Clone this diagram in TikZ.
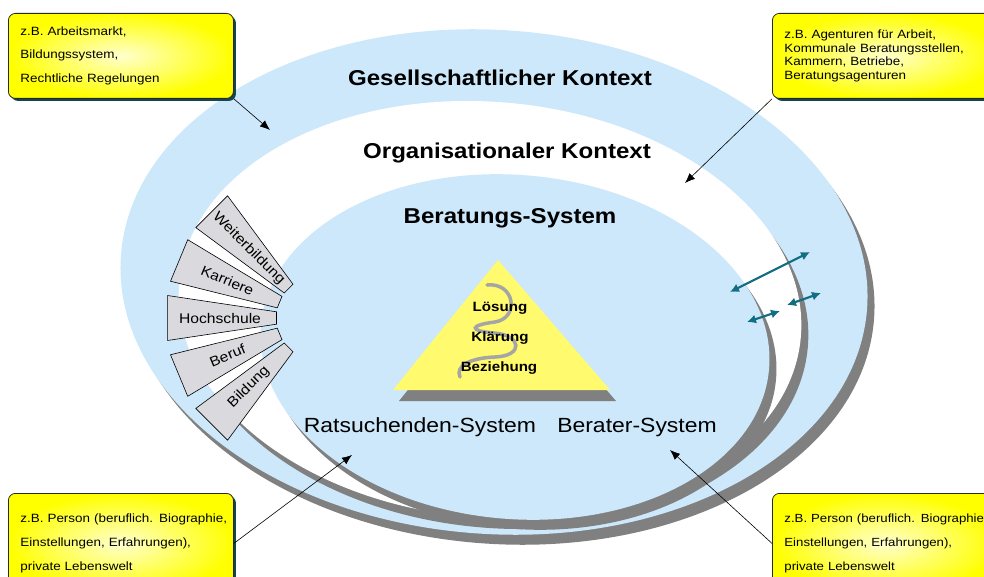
\documentclass[tikz,border=0pt]{standalone}
\usepackage{fontspec}
\setmainfont{Liberation Sans}[FakeStretch=1.12]
\usepackage{tikz}
\usetikzlibrary{calc, arrows.meta, shadows}

\definecolor{hellblau}{RGB}{204,232,250}
\definecolor{schatten}{RGB}{128,128,128}
\definecolor{pyrgelb}{RGB}{255,250,110}
\definecolor{petrol}{RGB}{20,110,130}
\definecolor{kastenrand}{RGB}{40,40,40}
\definecolor{kastenschatten}{RGB}{20,70,80}
\definecolor{glanz}{RGB}{255,255,205}
\definecolor{reiter}{RGB}{218,218,222}
\definecolor{spiralgrau}{RGB}{165,165,165}

\tikzset{
  kasten/.style={anchor=north west, draw=kastenrand, line width=0.8pt,
    rounded corners=7pt, inner color=glanz, outer color=yellow,
    drop shadow={shadow xshift=2.5pt, shadow yshift=-2.5pt, fill=kastenschatten, opacity=1},
    minimum width=225pt, text width=201pt, inner xsep=12pt, align=left},
  titel/.style={font=\fontsize{21.5}{24}\selectfont\bfseries, text height=15pt, text depth=4pt},
  system/.style={font=\fontsize{20.5}{24}\selectfont, text height=15pt, text depth=4pt},
  stufe/.style={font=\fontsize{13.5}{16}\selectfont\bfseries},
  reiterschrift/.style={font=\fontsize{14}{16}\selectfont, inner sep=0pt},
  hinweis/.style={-{Latex[length=10pt,width=8pt]}, line width=0.6pt},
  austausch/.style={{Latex[length=9pt,width=9pt]}-{Latex[length=9pt,width=9pt]}, petrol, line width=2.2pt},
  spirale/.style={spiralgrau, line width=3.5pt, line cap=round}
}

\begin{document}
\begin{tikzpicture}[x=1pt, y=-1pt]
    \useasboundingbox (0,0) rectangle (984,577);
    \clip (0,0) rectangle (984,577);

    % Kontexte (Ellipsen mit Schatten)
    \fill[schatten, rotate around={-4:(501,292)}] (501,292) ellipse [x radius=374pt, y radius=252pt];
    \fill[hellblau, rotate around={-4:(494,282)}] (494,282) ellipse [x radius=374pt, y radius=252pt];
    \fill[schatten, rotate around={-5:(497,320)}] (497,320) ellipse [x radius=312pt, y radius=208pt];
    \fill[white, rotate around={-5:(490,310)}] (490,310) ellipse [x radius=312pt, y radius=208pt];
    \fill[schatten, rotate around={-5:(522,357)}] (522,357) ellipse [x radius=255pt, y radius=172pt];
    \fill[hellblau, rotate around={-5:(515,347)}] (515,347) ellipse [x radius=255pt, y radius=172pt];

    % Reiter
    \coordinate (fan) at (318,318);
    \foreach \w/\txt in {135/Weiterbildung, 157.5/Karriere, 180/Hochschule, 202.5/Beruf, 225/Bildung} {
        \draw[fill=reiter, line width=0.6pt] ($(fan)+(-\w+8.5:42)$) -- ($(fan)+(-\w+8.5:152)$)
            -- ($(fan)+(-\w-8.5:152)$) -- ($(fan)+(-\w-8.5:42)$) -- cycle;
        \node[reiterschrift, rotate=\w-180] (r-\txt) at ($(fan)+(-\w:98)$) {\txt};
    }

    % Pyramide
    \fill[schatten] (504,271) -- (616,401) -- (399,401) -- cycle;
    \fill[pyrgelb] (498,260) -- (610,390) -- (393,390) -- cycle;
    \draw[spirale] (487,285) .. controls (515,282) and (520,318) .. (495,322)
        .. controls (470,325) and (468,331) .. (494,333)
        .. controls (522,335) and (524,356) .. (495,357)
        .. controls (470,358) and (455,366) .. (460,377);
    \node[stufe] (loesung) at (500,308) {Lösung};
    \node[stufe] (klaerung) at (500,338) {Klärung};
    \node[stufe] (beziehung) at (499,368) {Beziehung};

    % Beschriftungen
    \node[titel] (gesellschaft) at (500,80) {Gesellschaftlicher Kontext};
    \node[titel] (organisation) at (507,153) {Organisationaler Kontext};
    \node[titel] (beratung) at (510,218) {Beratungs-System};
    \node[system] (ratsuchend) at (420,427) {Ratsuchenden-System};
    \node[system] (berater) at (637,427) {Berater-System};

    % Austausch
    \coordinate (a1) at (730,292); \coordinate (b1) at (810,252);
    \coordinate (a2) at (747,322); \coordinate (b2) at (780,311);
    \coordinate (a3) at (787,305); \coordinate (b3) at (821,293);
    \draw[austausch] (a1) -- (b1);
    \draw[austausch] (a2) -- (b2);
    \draw[austausch] (a3) -- (b3);

    % Hinweiskaesten
    \node[kasten, minimum height=85pt, font=\fontsize{12}{23.5}\selectfont] (kasten1) at (8,13)
        {z.B. Arbeitsmarkt,\\ Bildungssystem,\\ Rechtliche Regelungen};
    \node[kasten, minimum height=85pt, font=\fontsize{12}{13.4}\selectfont] (kasten2) at (772,13)
        {z.B. Agenturen für Arbeit,\\ Kommunale Beratungsstellen,\\ Kammern, Betriebe,\\ Beratungsagenturen};
    \node[kasten, minimum height=100pt, font=\fontsize{12}{24}\selectfont] (kasten3) at (8,493)
        {\mbox{z.B. Person (beruflich. Biographie,}\\ Einstellungen, Erfahrungen),\\ private Lebenswelt};
    \node[kasten, minimum height=100pt, inner xsep=10pt, font=\fontsize{11.8}{24}\selectfont] (kasten4) at (772,493)
        {\mbox{z.B. Person (beruflich. Biographie}\\ Einstellungen, Erfahrungen),\\ private Lebenswelt};

    \coordinate (ziel1) at (270,130);
    \coordinate (ziel2) at (685,183);
    \coordinate (ziel3) at (352,455);
    \coordinate (ziel4) at (670,450);
    \draw[hinweis] (kasten1.south east) -- (ziel1);
    \draw[hinweis] (kasten2.south west) -- (ziel2);
    \draw[hinweis] (kasten3.east) -- (ziel3);
    \draw[hinweis] (kasten4.west) -- (ziel4);
\end{tikzpicture}
\end{document}
